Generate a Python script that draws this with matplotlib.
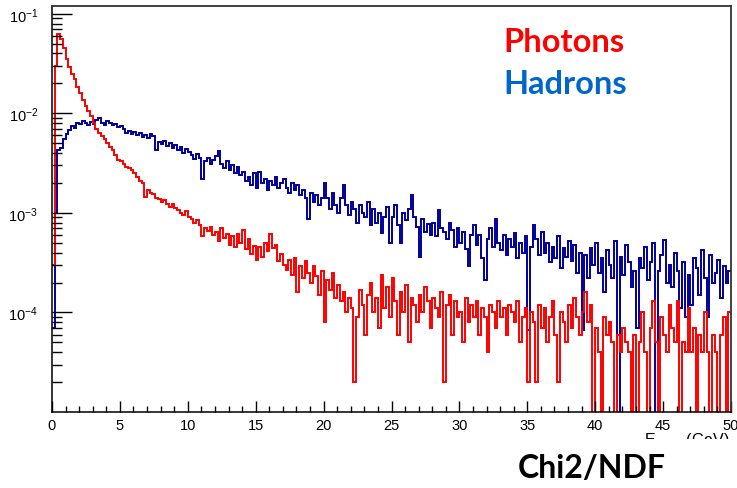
import numpy as np
import matplotlib
matplotlib.use("Agg")
import matplotlib.pyplot as plt
from matplotlib.ticker import FixedLocator, LogLocator, MultipleLocator, NullFormatter, LogFormatterMathtext
from matplotlib.patches import Rectangle

# --------------------
# Histogram contents, 250 bins of 0.2 GeV from 0 to 50 GeV
# values are given in units of 1e-4 (normalised entries per bin)
# --------------------
E_MIN, E_MAX, N_BINS = 0.0, 50.0, 250
UNIT = 1e-4

photons = [
    3, 300, 630, 560, 450,
    350, 290, 250, 220, 185,
    160, 135, 118, 105, 94,
    80, 69, 64, 59, 55,
    51, 46, 43, 38, 34,
    33, 31, 29, 28, 27,
    25, 23, 21, 20, 14.5,
    17, 16, 15.5, 14, 13.7,
    12.8, 13.5, 12.4, 11.6, 12.2,
    11.3, 10.8, 10.1, 9.6, 10.4,
    9.2, 8.6, 8.0, 8.4, 7.6,
    5.8, 7.1, 6.6, 7.2, 6.0,
    6.4, 5.2, 7.0, 5.6, 6.1,
    4.8, 5.9, 4.6, 6.2, 5.0,
    6.8, 4.3, 5.5, 3.9, 4.7,
    3.4, 4.5, 3.6, 5.0, 4.1,
    6.1, 4.4, 4.8, 3.3, 3.9,
    3.0, 2.7, 3.4, 2.4, 3.5,
    1.6, 2.9, 2.2, 3.3, 2.5,
    2.0, 2.9, 2.3, 1.5, 2.6,
    0.8, 2.1, 1.7, 2.5, 1.4,
    1.9, 1.3, 1.6, 1.0, 1.4,
    1.1, 0.2, 0.9, 1.7, 1.2,
    0.6, 1.5, 2.0, 1.0, 1.4,
    0.7, 2.4, 1.1, 1.8, 0.9,
    2.2, 1.3, 0.6, 1.6, 1.0,
    1.9, 0.5, 1.4, 1.2, 0.8,
    1.5, 1.0, 1.8, 1.3, 0.7,
    1.4, 1.1, 0.9, 1.6, 0.2,
    1.2, 1.5, 0.6, 1.3, 0.9,
    1.0, 0.5, 1.4, 0.8, 1.2,
    0.9, 1.3, 0.6, 1.1, 0.9,
    0.4, 1.2, 1.0, 0.7, 1.3,
    0.9, 1.1, 0.6, 1.2, 1.0,
    0.8, 1.3, 0.5, 0.9, 1.1,
    0.2, 1.0, 0.8, 0.2, 1.2,
    0.7, 1.1, 0.5, 0.9, 1.3,
    0.6, 0.2, 1.0, 0.8, 0.5,
    1.2, 0.7, 1.4, 0.9, 0.6,
    1.0, 1.6, 0.8, 1.2, 0,
    0.7, 0.4, 0, 0.9, 0.6,
    0.8, 0.5, 0, 0.6, 0.4,
    0.7, 0.5, 0.4, 0, 0.6,
    0, 0.5, 1.0, 0.4, 0,
    0.7, 1.3, 0.5, 0, 0.9,
    0.6, 0.4, 1.2, 0.7, 0.5,
    1.3, 0, 0.5, 0.4, 1.1,
    0.4, 0.7, 0, 0.6, 0.4,
    1.0, 0.4, 0, 0.6, 0.4,
    0, 0.6, 0.9, 0, 1.0,
]

hadrons = [
    0.7, 10, 43, 45, 55,
    62, 68, 74, 72, 80,
    78, 84, 80, 76, 82,
    79, 86, 90, 81, 77,
    84, 80, 76, 78, 73,
    75, 70, 64, 66, 62,
    65, 60, 63, 58, 61,
    57, 62, 59, 43, 52,
    49, 53, 47, 51, 45,
    48, 43, 46, 40, 44,
    41, 38, 35, 39, 36,
    22, 33, 36, 31, 34,
    37, 42, 31, 28, 33,
    27, 30, 25, 29, 24,
    26, 21, 23, 19, 25,
    18, 26, 20, 22, 17,
    21, 19, 23, 18, 20,
    22, 18, 16, 20, 17,
    19, 15, 17, 14, 8.6,
    16, 13, 15, 12, 14,
    20, 14, 11, 16, 12,
    10, 14, 19, 12, 9.5,
    13, 11, 8, 12, 10,
    9, 12.8, 7.5, 11, 8,
    10, 6.3, 9, 11.5, 5,
    9, 12, 7.5, 5, 10,
    8.5, 11, 15, 9, 7.3,
    3.6, 8.6, 6.5, 7.8, 6,
    8, 5.8, 10.8, 7, 6.5,
    5.5, 8, 6.8, 4.5, 7,
    5, 6.5, 4.3, 2.9, 6,
    7.5, 4.8, 6, 3.5, 2.1,
    5.5, 7, 4.6, 8.6, 5,
    4.2, 6, 3.8, 5.5, 4.5,
    6.3, 3.5, 5, 4, 5.8,
    0.67, 4.5, 7.5, 5.5, 3.8,
    6.5, 4, 5, 3.2, 4.6,
    3.5, 5.8, 2.8, 4.4, 3.6,
    5.2, 3.3, 4.8, 2.5, 4,
    0.67, 3.8, 2.2, 4.4, 3,
    5, 2.5, 3.5, 1.6, 4.2,
    3, 2.2, 5.2, 0, 3.6,
    2.4, 4.8, 3.2, 1.8, 2.6,
    0.7, 3.5, 2.8, 4.5, 2.1,
    3.2, 5, 0, 2.6, 3.8,
    5.4, 2, 3, 1.8, 4,
    2.6, 1.1, 3.2, 0.9, 2.4,
    1.2, 3.5, 2.8, 1.5, 4.2,
    2.2, 0.9, 3.8, 2, 2.5,
    3.4, 1.4, 2.9, 2, 2.6,
]

x_ticks = [0, 5, 10, 15, 20, 25, 30, 35, 40, 45, 50]
y_ticks = [1e-4, 1e-3, 1e-2, 1e-1]

# --------------------
# Style: plain ROOT-like canvas
# --------------------
plt.rcParams["font.family"] = ["Liberation Sans", "DejaVu Sans"]
plt.rcParams["mathtext.default"] = "regular"

fig = plt.figure(figsize=(7.37, 4.89), dpi=100)
ax = fig.add_axes([52 / 737, 76 / 489, 679 / 737, 406 / 489])

edges = np.linspace(E_MIN, E_MAX, N_BINS + 1)
ax.stairs(np.array(hadrons) * UNIT, edges, baseline=None, color="#00009c", lw=1.4)
ax.stairs(np.array(photons) * UNIT, edges, baseline=None, color="#ff0000", lw=1.4)

ax.set_yscale("log", nonpositive="clip")
ax.set_xlim(E_MIN, E_MAX)
ax.set_ylim(1e-5, 0.12)

ax.xaxis.set_major_locator(FixedLocator(x_ticks))
ax.xaxis.set_minor_locator(MultipleLocator(1))
ax.yaxis.set_major_locator(FixedLocator(y_ticks))
ax.yaxis.set_minor_locator(LogLocator(base=10, subs=np.arange(2, 10)))
ax.yaxis.set_major_formatter(LogFormatterMathtext())
ax.yaxis.set_minor_formatter(NullFormatter())

ax.tick_params(axis="x", which="major", direction="in", length=8, width=1, labelsize=10.5, pad=4)
ax.tick_params(axis="x", which="minor", direction="in", length=4, width=1)
ax.tick_params(axis="y", which="major", direction="in", length=14.5, width=1, labelsize=10.5, pad=10)
ax.tick_params(axis="y", which="minor", direction="in", length=7.5, width=1)

for side in ["top", "right"]:
    ax.spines[side].set_color("#333333")
    ax.spines[side].set_linewidth(1.3)
for side in ["left", "bottom"]:
    ax.spines[side].set_linewidth(1.1)

# axis title, partly hidden under the caption area
fig.text(730 / 737, 1 - 431 / 489, r"E$_{reco}$  (GeV)", ha="right", va="top", fontsize=11.5)
fig.patches.append(Rectangle((0.5, 0), 0.5, 1 - 440 / 489, transform=fig.transFigure,
                             facecolor="white", edgecolor="none", zorder=5))

# legend-style labels and caption
big = ["Lato", "DejaVu Sans"]
fig.text(503 / 737, 1 - 52 / 489, "Photons", color="#ff0000", fontsize=23.5,
         fontweight="bold", family=big, va="baseline")
fig.text(503 / 737, 1 - 94 / 489, "Hadrons", color="#0066cc", fontsize=23.5,
         fontweight="bold", family=big, va="baseline")
fig.text(518 / 737, 1 - 478 / 489, "Chi2/NDF", color="black", fontsize=23,
         fontweight="bold", family=big, va="baseline", zorder=6)

fig.savefig("out.png", dpi=100)
